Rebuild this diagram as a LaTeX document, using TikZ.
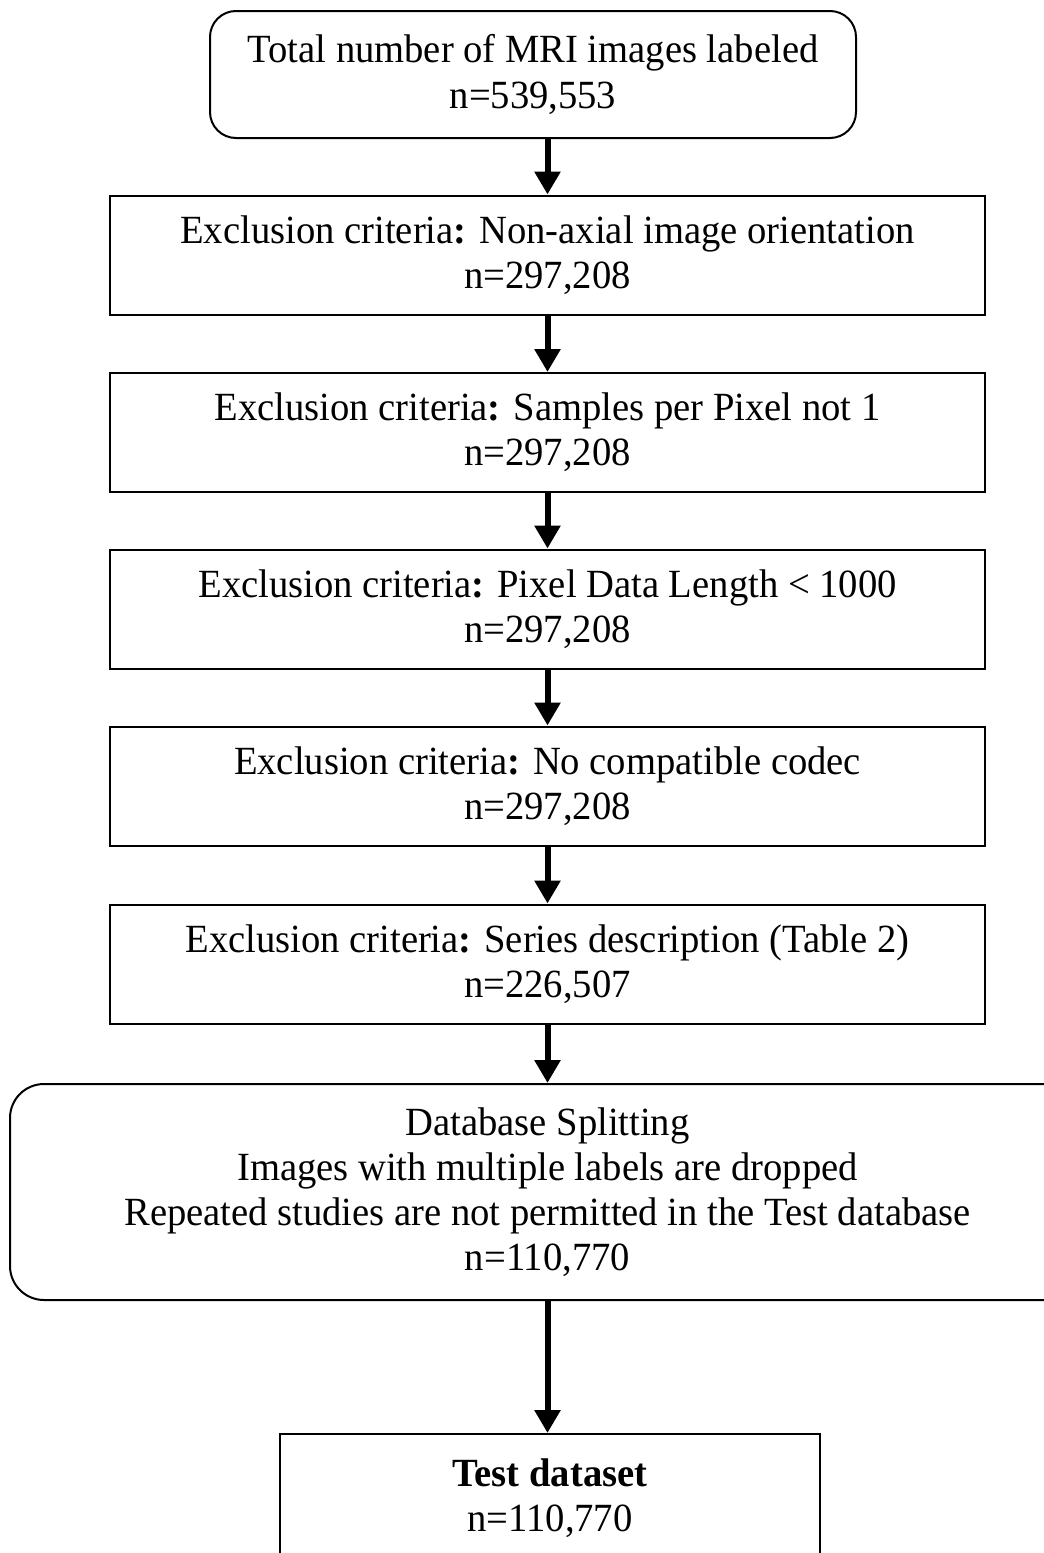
\documentclass[tikz,border=0pt]{standalone}
\usepackage{fontspec}
\setmainfont{Liberation Serif}[FakeStretch=0.965]
\usetikzlibrary{arrows.meta}

\begin{document}
\begin{tikzpicture}[x=0.5pt, y=-0.5pt,
    stage/.style ={rectangle, draw, line width=1pt, align=center, inner sep=0pt,
      minimum width=437.5pt, minimum height=59.5pt, font=\fontsize{20pt}{22.6pt}\selectfont},
    roundstage/.style ={stage, rounded corners=13pt},
    flow/.style ={-{Triangle[width=12.5pt,length=11.5pt]}, line width=3pt}]
   \useasboundingbox (0,0) rectangle (1044,1553);
   \node[roundstage, minimum width=323pt, minimum height=63.5pt] (total) at (533,74.5)
     {Total number of MRI images labeled\\n=539,553};
   \node[stage] (axial)  at (547.5,255)
     {Exclusion criteria\textbf{:} Non-axial image orientation\\n=297,208};
   \node[stage] (spp)    at (547.5,432.5)
     {Exclusion criteria\textbf{:} Samples per Pixel not 1\\n=297,208};
   \node[stage] (length) at (547.5,609)
     {Exclusion criteria\textbf{:} Pixel Data Length < 1000\\n=297,208};
   \node[stage] (codec)  at (547.5,786)
     {Exclusion criteria\textbf{:} No compatible codec\\n=297,208};
   \node[stage] (series) at (547.5,964)
     {Exclusion criteria\textbf{:} Series description (Table 2)\\n=226,507};
   \node[roundstage, rounded corners=17pt, minimum width=537.5pt, minimum height=108pt] (split) at (547.5,1192)
     {Database Splitting\\Images with multiple labels are dropped\\Repeated studies are not permitted in the Test database\\n=110,770};
   \node[stage, minimum width=270pt, minimum height=64pt] (test) at (550,1498)
     {\textbf{Test dataset}\\n=110,770};


   \draw[flow] (total.south -| axial.north) to (axial.north);
   \draw[flow] (axial) to (spp);
   \draw[flow] (spp) to (length);
   \draw[flow] (length) to (codec);
   \draw[flow] (codec) to (series);
   \draw[flow] (series) to (split);
   \draw[flow] (split.south) to (split.south |- test.north);
 \end{tikzpicture}
\end{document}
